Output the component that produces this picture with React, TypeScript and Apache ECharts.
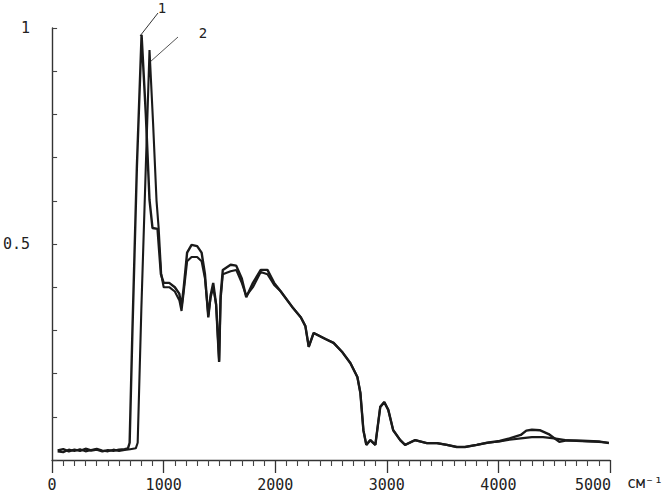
import React, { useEffect, useRef } from "react";
import * as echarts from "echarts";

// Wavenumber (cm^-1) and relative intensity, curve 1
const wavenumber1 = [50,100,150,200,250,300,350,400,450,500,550,600,650,680,695,720,760,802,840,873,900,945,975,1000,1050,1100,1140,1160,1180,1210,1250,1300,1340,1370,1400,1420,1444,1470,1497,1510,1530,1600,1650,1700,1740,1800,1870,1930,1990,2050,2150,2230,2270,2300,2344,2450,2523,2600,2674,2736,2763,2790,2816,2852,2897,2941,2977,3013,3057,3120,3164,3253,3360,3449,3538,3627,3700,3806,3900,4011,4100,4200,4250,4300,4370,4450,4546,4600,4700,4800,4900,4990];
const intensity1 = [0.022,0.025,0.02,0.024,0.021,0.026,0.022,0.024,0.02,0.023,0.021,0.024,0.025,0.027,0.04,0.3,0.68,0.984,0.8,0.602,0.537,0.535,0.43,0.41,0.41,0.40,0.385,0.355,0.40,0.48,0.498,0.495,0.48,0.43,0.33,0.38,0.41,0.36,0.227,0.38,0.44,0.452,0.45,0.42,0.377,0.41,0.44,0.44,0.41,0.39,0.355,0.33,0.31,0.262,0.294,0.28,0.271,0.25,0.224,0.192,0.155,0.069,0.035,0.046,0.035,0.123,0.134,0.116,0.069,0.046,0.035,0.046,0.039,0.039,0.035,0.03,0.03,0.035,0.04,0.044,0.05,0.058,0.068,0.07,0.069,0.06,0.042,0.045,0.045,0.044,0.043,0.039];

// Curve 2
const wavenumber2 = [50,100,150,200,250,300,350,400,450,500,550,600,650,700,750,767,800,840,873,905,936,955,978,1000,1050,1100,1140,1160,1180,1210,1250,1300,1340,1370,1400,1420,1444,1470,1497,1510,1530,1600,1650,1700,1740,1800,1870,1930,1990,2050,2150,2230,2270,2300,2344,2450,2523,2600,2674,2736,2763,2790,2816,2852,2897,2941,2977,3013,3057,3120,3164,3253,3360,3449,3538,3627,3700,3806,3900,4011,4100,4200,4300,4400,4500,4600,4700,4800,4900,4990];
const intensity2 = [0.02,0.018,0.024,0.021,0.025,0.02,0.023,0.026,0.022,0.02,0.024,0.021,0.023,0.025,0.027,0.04,0.35,0.68,0.949,0.78,0.6,0.537,0.43,0.40,0.40,0.39,0.37,0.345,0.39,0.46,0.47,0.47,0.46,0.42,0.335,0.375,0.40,0.36,0.23,0.37,0.43,0.437,0.44,0.41,0.38,0.40,0.435,0.43,0.405,0.39,0.355,0.33,0.31,0.262,0.294,0.28,0.271,0.25,0.224,0.192,0.155,0.069,0.035,0.046,0.035,0.123,0.134,0.116,0.069,0.046,0.035,0.046,0.039,0.039,0.035,0.03,0.03,0.035,0.04,0.043,0.047,0.05,0.053,0.053,0.05,0.046,0.044,0.043,0.042,0.04];

const yTickLabels: Record<string, string> = { "0.5": "0.5", "1": "1" };
const curveLabels = ["1", "2"];
const unitLabel = "см⁻¹";

const FONT = "DejaVu Sans Mono";
const INK = "#1a1a1a";

export default function App() {
  const ref = useRef<HTMLDivElement>(null);
  useEffect(() => {
    if (!ref.current) return;
    const chart = echarts.init(ref.current, undefined, { renderer: "svg" });
    const s1 = wavenumber1.map((w, i) => [w, intensity1[i]]);
    const s2 = wavenumber2.map((w, i) => [w, intensity2[i]]);
    chart.setOption({
      animation: false,
      backgroundColor: "#ffffff",
      grid: { left: 50, right: 57, top: 28, bottom: 34 },
      xAxis: {
        type: "value",
        min: 0,
        max: 5000,
        interval: 1000,
        axisLine: { show: true, onZero: false, lineStyle: { color: "#333", width: 1.4 } },
        axisTick: { show: true, inside: false, length: 13, lineStyle: { color: "#333", width: 1.3 } },
        minorTick: { show: true, splitNumber: 10, length: 6, lineStyle: { color: "#444", width: 1.1 } },
        splitLine: { show: false },
        axisLabel: {
          margin: 17,
          fontFamily: FONT,
          fontSize: 15,
          color: "#222",
          formatter: (v: number) => (v === 5000 ? `{last|${v}}` : String(v)),
          rich: {
            last: { fontFamily: FONT, fontSize: 15, color: "#222", padding: [0, 34, 0, 0] },
          },
        },
      },
      yAxis: {
        type: "value",
        min: 0,
        max: 1,
        interval: 0.1,
        axisLine: { show: true, lineStyle: { color: "#333", width: 1.4 } },
        axisTick: { show: true, inside: true, length: 5, lineStyle: { color: "#444", width: 1.1 } },
        splitLine: { show: false },
        axisLabel: {
          margin: 22,
          fontFamily: FONT,
          fontSize: 15,
          color: "#222",
          formatter: (v: number) => {
            const key = String(Math.round(v * 10) / 10);
            return yTickLabels[key] ?? "";
          },
        },
      },
      series: [
        {
          name: curveLabels[0],
          type: "line",
          data: s1,
          showSymbol: false,
          lineStyle: { color: INK, width: 2.4 },
          z: 3,
        },
        {
          name: curveLabels[1],
          type: "line",
          data: s2,
          showSymbol: false,
          lineStyle: { color: INK, width: 2.1 },
          z: 2,
        },
      ],
      graphic: [
        { type: "line", shape: { x1: 158, y1: 13, x2: 140, y2: 36 }, style: { stroke: "#333", lineWidth: 1 } },
        { type: "line", shape: { x1: 178, y1: 37, x2: 150, y2: 62 }, style: { stroke: "#555", lineWidth: 1 } },
        { type: "text", x: 162, y: 8, style: { text: curveLabels[0], font: `14px ${FONT}`, fill: "#222", textAlign: "center", textVerticalAlign: "middle" } },
        { type: "text", x: 203, y: 33, style: { text: curveLabels[1], font: `14px ${FONT}`, fill: "#222", textAlign: "center", textVerticalAlign: "middle" } },
        { type: "text", x: 627, y: 483, style: { text: unitLabel, font: `15px ${FONT}`, fill: "#222", textAlign: "left", textVerticalAlign: "middle" } },
      ],
    });
    return () => chart.dispose();
  }, []);
  return <div ref={ref} style={{ position: "fixed", left: 0, top: 0, width: 667, height: 494 }} />;
}
